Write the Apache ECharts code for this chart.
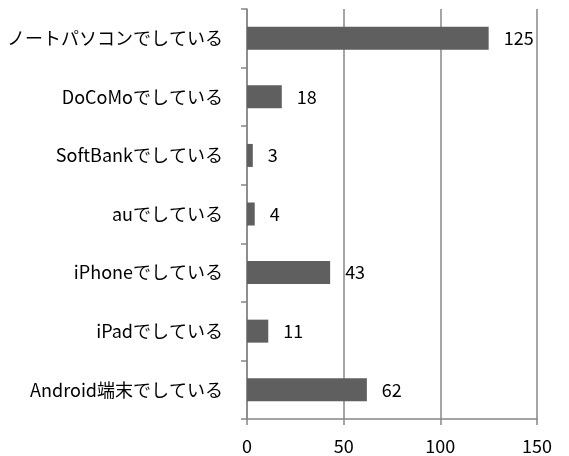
<!DOCTYPE html>
<html><head><meta charset="utf-8">
<script src="https://cdn.jsdelivr.net/npm/echarts@6/dist/echarts.min.js"></script>
<style>html,body{margin:0;padding:0;background:#fff}#c{width:569px;height:456px}</style>
</head><body><div id="c"></div>
<script>
const categories = ["ノートパソコンでしている","DoCoMoでしている","SoftBankでしている","auでしている","iPhoneでしている","iPadでしている","Android端末でしている"];
const values = [125, 18, 3, 4, 43, 11, 62];
const xTicks = [0, 50, 100, 150];

const FONT = '"Noto Sans CJK JP", "Liberation Sans", sans-serif';
const chart = echarts.init(document.getElementById('c'), null, {renderer:'canvas'});
chart.setOption({
  animation: false,
  backgroundColor: '#fff',
  grid: {left: 247, right: 32, top: 9, bottom: 37, containLabel: false},
  xAxis: {
    type: 'value', min: xTicks[0], max: xTicks[xTicks.length-1], interval: 50,
    axisLine: {show: true, lineStyle: {color: '#878787', width: 1.5}},
    axisTick: {show: true, length: 6, lineStyle: {color: '#878787', width: 1.5}},
    splitLine: {show: true, lineStyle: {color: '#878787', width: 1.5}},
    axisLabel: {color: '#000', fontSize: 18, fontFamily: FONT, margin: 18}
  },
  yAxis: {
    type: 'category', data: categories, inverse: true,
    axisLine: {show: true, lineStyle: {color: '#878787', width: 1.5}},
    axisTick: {show: true, length: 6, lineStyle: {color: '#878787', width: 1.5}},
    axisLabel: {color: '#000', fontSize: 18, fontFamily: FONT, margin: 24}
  },
  series: [{
    type: 'bar', data: values, barWidth: 23,
    itemStyle: {color: '#5f5f5f'},
    label: {show: true, position: 'right', distance: 15, color: '#000', fontSize: 18, fontFamily: FONT}
  }]
});
</script></body></html>
